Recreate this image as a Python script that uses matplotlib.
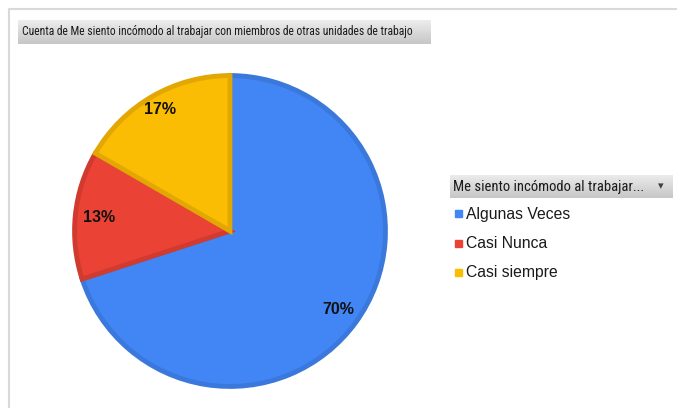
import numpy as np
import matplotlib
matplotlib.use('Agg')
import matplotlib.pyplot as plt

# datos (conteos de respuestas)
categorias = ['Algunas Veces', 'Casi Nunca', 'Casi siempre']
conteos = [21, 4, 5]
colores = ['#4285F4', '#EA4335', '#FBBC04']
bordes = ['#3B78DC', '#D13B2F', '#E2A703']
titulo = 'Cuenta de Me siento incómodo al trabajar con miembros de otras unidades de trabajo'
titulo_leyenda = 'Me siento incómodo al trabajar...'

W, H = 677, 408
fig = plt.figure(figsize=(W / 100, H / 100), dpi=100)
fig.patch.set_facecolor('white')

def caja(x0, y0, x1, y1):
    # caja con degradado gris (en pixeles, y hacia abajo)
    a = fig.add_axes([x0 / W, 1 - y1 / H, (x1 - x0) / W, (y1 - y0) / H])
    g = np.linspace(0, 1, 50).reshape(-1, 1)
    a.imshow(g, aspect='auto', cmap=matplotlib.colors.LinearSegmentedColormap.from_list(
        'g', ['#EDEDED', '#C6C6C6']), extent=[0, 1, 0, 1], origin='upper')
    a.set_xlim(0, 1)
    a.set_ylim(0, 1)
    a.axis('off')
    return a

# marco del grafico
marco = fig.add_axes([0, 0, 1, 1])
marco.set_xlim(0, W)
marco.set_ylim(H, 0)
marco.axis('off')
marco.plot([9, 9, W], [H, 9, 9], color='#D9D9D9', lw=1.5)

fuente_narrow = ['Roboto Condensed', 'DejaVu Sans']

# boton del titulo
t = caja(18, 20, 431, 44)
t.text(0.01, 0.5, titulo, va='center', ha='left', fontsize=8.4,
       family=fuente_narrow, color='#1A1A1A')

# cabecera de la leyenda
l = caja(450, 175, 673, 198)
l.text(0.015, 0.5, titulo_leyenda, va='center', ha='left', fontsize=10.5,
       family=fuente_narrow, color='#1A1A1A')
l.text(0.945, 0.5, '▾', va='center', ha='center', fontsize=8, color='#404040')

# pastel
cx, cy, r = 230, 231, 157
ax = fig.add_axes([(cx - r) / W, 1 - (cy + r) / H, 2 * r / W, 2 * r / H])
wedges, textos, pcts = ax.pie(conteos, colors=colores, startangle=90, counterclock=False,
                              autopct='%1.0f%%', pctdistance=0.85,
                              wedgeprops=dict(linewidth=3.5))
for w, b in zip(wedges, bordes):
    w.set_edgecolor(b)
dist = [0.86, 0.85, 0.9]
for p, w, d in zip(pcts, wedges, dist):
    ang = np.deg2rad((w.theta1 + w.theta2) / 2)
    p.set_position((d * np.cos(ang), d * np.sin(ang)))
    p.set_fontsize(11.5)
    p.set_fontweight('bold')
    p.set_family('Liberation Sans')
    p.set_color('#111111')
ax.set_xlim(-1.01, 1.01)
ax.set_ylim(-1.01, 1.01)

# entradas de la leyenda
for i, (cat, col) in enumerate(zip(categorias, colores)):
    y = 214 + i * 29.5
    marco.add_patch(plt.Rectangle((455, y - 4), 7, 7, color=col))
    marco.text(466, y, cat, va='center', ha='left', fontsize=11.3,
               family='Liberation Sans', color='#1A1A1A')

fig.savefig('out.png', dpi=100)
